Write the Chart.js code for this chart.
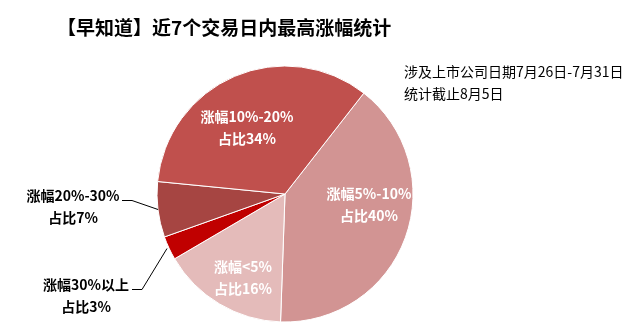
<!DOCTYPE html>
<html>
<head>
<meta charset="utf-8">
<script src="https://cdn.jsdelivr.net/npm/chart.js@4.4.1/dist/chart.umd.min.js"></script>
<style>
  html, body { margin: 0; padding: 0; background: #fff; }
  #wrap { width: 635px; height: 331px; position: relative; }
</style>
</head>
<body>
<div id="wrap"><canvas id="pie"></canvas></div>
<script>
const titleText = "【早知道】近7个交易日内最高涨幅统计";
const noteLines = ["涉及上市公司日期7月26日-7月31日", "统计截止8月5日"];

const categories = ["涨幅5%-10%", "涨幅<5%", "涨幅30%以上", "涨幅20%-30%", "涨幅10%-20%"];
const shares = [40, 16, 3, 7, 34];
const shareLabels = ["占比40%", "占比16%", "占比3%", "占比7%", "占比34%"];
const sliceColors = ["#D29493", "#E4BBBA", "#C00000", "#A64542", "#C0504D"];

const font = "'Noto Sans CJK SC', 'Microsoft YaHei', sans-serif";

// label placement per slice: inside (white) or outside with leader line (black)
const labelSpots = [
  {x: 369, y: 194, color: "#fff"},
  {x: 243, y: 267, color: "#fff"},
  {x: 86, y: 285, color: "#000", line: [[132, 289], [142, 289], [167, 248]]},
  {x: 73, y: 196, color: "#000", line: [[122, 200], [132, 200], [158, 209]]},
  {x: 247, y: 117, color: "#fff"}
];

const textPlugin = {
  id: "texts",
  afterDraw(chart) {
    const ctx = chart.ctx;
    ctx.save();
    ctx.fillStyle = "#000";
    ctx.textBaseline = "middle";
    ctx.textAlign = "left";
    ctx.font = "bold 19px " + font;
    ctx.fillText(titleText, 57, 28);
    ctx.font = "14px " + font;
    ctx.fillText(noteLines[0], 404, 72);
    ctx.fillText(noteLines[1], 404, 94);

    ctx.textAlign = "center";
    ctx.font = "bold 14px " + font;
    labelSpots.forEach(function(s, i) {
      if (s.line) {
        ctx.strokeStyle = "#000";
        ctx.lineWidth = 1;
        ctx.beginPath();
        ctx.moveTo(s.line[0][0], s.line[0][1] + 0.5);
        for (let k = 1; k < s.line.length; k++) ctx.lineTo(s.line[k][0], s.line[k][1] + 0.5);
        ctx.stroke();
      }
      ctx.fillStyle = s.color;
      ctx.fillText(categories[i], s.x, s.y);
      ctx.fillText(shareLabels[i], s.x, s.y + 22);
    });
    ctx.restore();
  }
};

new Chart(document.getElementById("pie"), {
  type: "pie",
  data: {
    labels: categories,
    datasets: [{
      data: shares,
      backgroundColor: sliceColors,
      borderColor: "#fff",
      borderWidth: 1,
      hoverOffset: 0
    }]
  },
  options: {
    responsive: true,
    maintainAspectRatio: false,
    animation: false,
    rotation: 38,
    radius: 128,
    layout: {padding: {left: 157, right: 222, top: 66, bottom: 9}},
    plugins: {
      legend: {display: false},
      tooltip: {enabled: false},
      title: {display: false}
    }
  },
  plugins: [textPlugin]
});
</script>
</body>
</html>
